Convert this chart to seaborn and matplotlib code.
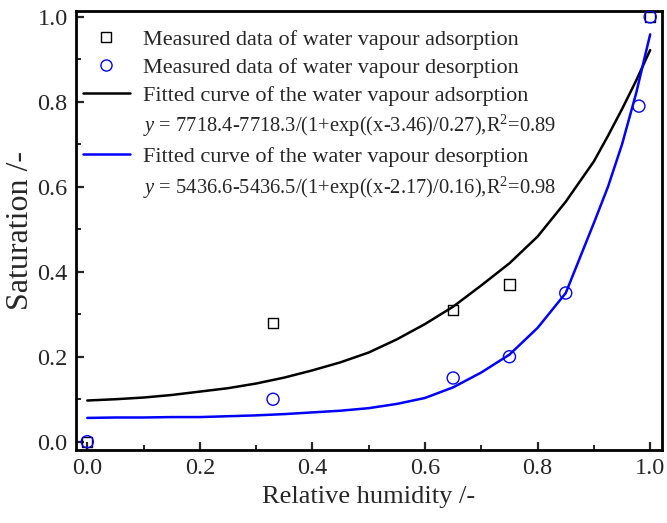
import numpy as np
import pandas as pd
import matplotlib
matplotlib.use("Agg")
import matplotlib.pyplot as plt
from matplotlib.lines import Line2D
from matplotlib.ticker import MultipleLocator, FormatStrFormatter
import seaborn as sns

# Measured data
rh_ads = [0.0, 0.33, 0.65, 0.75, 1.0]
sat_ads = [0.0, 0.28, 0.31, 0.37, 1.0]
rh_des = [0.0, 0.33, 0.65, 0.75, 0.85, 0.98, 1.0]
sat_des = [0.0, 0.10, 0.15, 0.20, 0.35, 0.79, 1.0]

# Fitted curves
rh_fit = [0.0, 0.05, 0.1, 0.15, 0.2, 0.25, 0.3, 0.35, 0.4, 0.45, 0.5, 0.55,
          0.6, 0.65, 0.7, 0.75, 0.8, 0.85, 0.9, 0.925, 0.95, 0.975, 1.0]
fit_ads = [0.097, 0.100, 0.104, 0.110, 0.118, 0.126, 0.137, 0.151, 0.168,
           0.187, 0.210, 0.241, 0.277, 0.318, 0.368, 0.420, 0.483, 0.565,
           0.660, 0.720, 0.783, 0.850, 0.922]
fit_des = [0.056, 0.057, 0.057, 0.058, 0.058, 0.060, 0.062, 0.065, 0.069,
           0.073, 0.079, 0.089, 0.103, 0.128, 0.163, 0.205, 0.268, 0.350,
           0.515, 0.600, 0.700, 0.820, 0.959]

labels = ["Measured data of water vapour adsorption",
          "Measured data of water vapour desorption",
          "Fitted curve of the water vapour adsorption",
          r"$y$ = 7718.4-7718.3/(1+exp((x-3.46)/0.27),R$^2$=0.89",
          "Fitted curve of the water vapour desorption",
          r"$y$ = 5436.6-5436.5/(1+exp((x-2.17)/0.16),R$^2$=0.98"]
x_label = "Relative humidity /-"
y_label = "Saturation /-"

sns.set_style("ticks")
plt.rcParams["font.family"] = ["Liberation Serif", "DejaVu Serif"]
plt.rcParams["mathtext.fontset"] = "custom"
plt.rcParams["mathtext.rm"] = "Liberation Serif"
plt.rcParams["mathtext.it"] = "Liberation Serif:italic"

fig = plt.figure(figsize=(6.67, 5.23), dpi=100)
ax = fig.add_axes([0.114, 0.14, 0.8785, 0.839])

fit_df = pd.DataFrame({"x": rh_fit, "ads": fit_ads, "des": fit_des})
sns.lineplot(data=fit_df, x="x", y="ads", ax=ax, color="black", lw=1.8,
             sort=False, estimator=None)
sns.lineplot(data=fit_df, x="x", y="des", ax=ax, color="#0000FF", lw=1.8,
             sort=False, estimator=None)

ads_df = pd.DataFrame({"x": rh_ads, "y": sat_ads})
des_df = pd.DataFrame({"x": rh_des, "y": sat_des})
sns.scatterplot(data=ads_df, x="x", y="y", ax=ax, marker="s", s=55,
                facecolor="none", edgecolor="black", linewidth=1.0, zorder=4)
sns.scatterplot(data=des_df, x="x", y="y", ax=ax, marker="o", s=75,
                facecolor="none", edgecolor="#0000FF", linewidth=1.0, zorder=5)

ax.set_xlim(-0.02, 1.021)
ax.set_ylim(-0.019, 1.014)
ax.xaxis.set_major_locator(MultipleLocator(0.2))
ax.xaxis.set_minor_locator(MultipleLocator(0.1))
ax.yaxis.set_major_locator(MultipleLocator(0.2))
ax.yaxis.set_minor_locator(MultipleLocator(0.1))
ax.xaxis.set_major_formatter(FormatStrFormatter("%.1f"))
ax.yaxis.set_major_formatter(FormatStrFormatter("%.1f"))
ax.tick_params(which="major", direction="in", length=6, width=1.6,
               labelsize=17.5, top=False, right=False, pad=6)
ax.tick_params(which="minor", direction="in", length=3.5, width=1.4,
               top=False, right=False)
for sp in ax.spines.values():
    sp.set_visible(True)
    sp.set_linewidth(2.0)
    sp.set_color("black")

ax.set_xlabel(x_label, fontsize=19, labelpad=5)
ax.set_ylabel(y_label, fontsize=23, labelpad=2)

handles = [
    Line2D([], [], ls="none", marker="s", ms=7, mfc="none", mec="black", mew=1.0),
    Line2D([], [], ls="none", marker="o", ms=8, mfc="none", mec="#0000FF", mew=1.0),
    Line2D([], [], color="black", lw=1.8),
    Line2D([], [], ls="none"),
    Line2D([], [], color="#0000FF", lw=1.8),
    Line2D([], [], ls="none"),
]
leg = ax.legend(handles, labels, loc="upper left",
                bbox_to_anchor=(0.012, 0.958), frameon=False, fontsize=16,
                handlelength=2.1, handletextpad=0.6, labelspacing=0.33,
                borderaxespad=0.0, borderpad=0.0)
for i in (3, 5):
    leg.get_texts()[i].set_fontsize(14.8)

fig.savefig("out.png", dpi=100)
